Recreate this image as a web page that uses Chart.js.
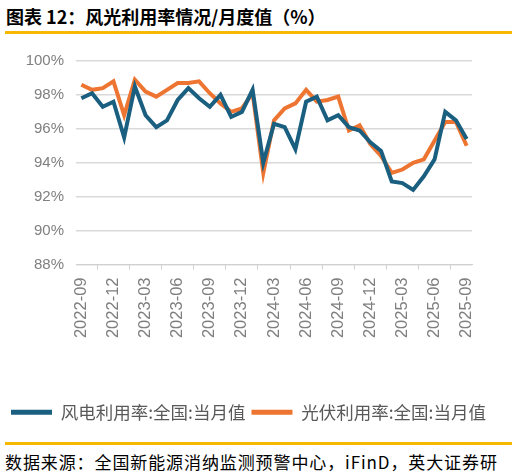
<!DOCTYPE html>
<html>
<head>
<meta charset="utf-8">
<script src="https://cdn.jsdelivr.net/npm/chart.js@4"></script>
<style>
  body { margin: 0; background: #fff; width: 517px; height: 475px; position: relative; overflow: hidden;
         font-family: "Noto Sans CJK SC", sans-serif; }
  .title { position: absolute; left: 6px; top: 3px; font-size: 18px; font-weight: bold; color: #000; white-space: nowrap; }
  .rule { position: absolute; left: 5px; width: 507px; height: 3px; background: #f7b900; }
  .src { position: absolute; left: 5px; top: 449px; font-size: 17px; color: #000; white-space: nowrap; letter-spacing: 0.9px; }
  #wrap { position: absolute; left: 0; top: 40px; width: 517px; height: 395px; }
</style>
</head>
<body>
<div class="title">图表 12：风光利用率情况/月度值（%）</div>
<div class="rule" style="top:31px"></div>
<div id="wrap"><canvas id="c"></canvas></div>
<div class="rule" style="top:442px"></div>
<div class="src">数据来源：全国新能源消纳监测预警中心，iFinD，英大证券研</div>
<script>
const months = [
  '2022-09','2022-10','2022-11','2022-12','2023-01','2023-02','2023-03','2023-04','2023-05','2023-06',
  '2023-07','2023-08','2023-09','2023-10','2023-11','2023-12','2024-01','2024-02','2024-03','2024-04',
  '2024-05','2024-06','2024-07','2024-08','2024-09','2024-10','2024-11','2024-12','2025-01','2025-02',
  '2025-03','2025-04','2025-05','2025-06','2025-07','2025-08','2025-09'
];
const wind = [97.8, 98.1, 97.3, 97.6, 95.5, 98.5, 96.8, 96.1, 96.5, 97.7, 98.4, 97.8, 97.3, 98.0, 96.7, 97.0, 98.3, 94.0,
  96.3, 96.1, 94.8, 97.6, 97.9, 96.5, 96.8, 96.1, 95.9, 95.2, 94.7, 92.9, 92.8, 92.4, 93.2, 94.2, 97.0, 96.5, 95.4];
const solar = [98.6, 98.3, 98.4, 98.8, 96.8, 98.9, 98.2, 97.9, 98.3, 98.7, 98.7, 98.8, 98.1, 97.5, 97.0, 97.2, 98.1, 93.4,
  96.5, 97.2, 97.5, 98.3, 97.6, 97.7, 97.9, 95.9, 96.2, 95.1, 94.4, 93.4, 93.6, 94.0, 94.2, 95.3, 96.4, 96.4, 95.0];
const yTicks = [88, 90, 92, 94, 96, 98, 100];

const gray = '#7f7f7f';
new Chart(document.getElementById('c'), {
  type: 'line',
  data: {
    labels: months,
    datasets: [
      { label: '风电利用率:全国:当月值', data: wind, borderColor: '#1a5f80', backgroundColor: '#1a5f80',
        borderWidth: 4, pointRadius: 0, tension: 0 },
      { label: '光伏利用率:全国:当月值', data: solar, borderColor: '#ed7531', backgroundColor: '#ed7531',
        borderWidth: 4, pointRadius: 0, tension: 0 }
    ]
  },
  options: {
    responsive: true,
    maintainAspectRatio: false,
    animation: false,
    layout: { padding: { top: 21, right: 0, bottom: 4, left: 5 } },
    plugins: {
      tooltip: { enabled: false },
      legend: {
        position: 'bottom',
        align: 'start',
        labels: {
          boxWidth: 41, boxHeight: 5, padding: 6, color: '#595959',
          font: { size: 17.5, family: '"Noto Sans CJK SC", sans-serif' },
          generateLabels(chart) {
            return chart.data.datasets.map((d, i) => ({
              text: d.label, fillStyle: d.borderColor, strokeStyle: d.borderColor,
              lineWidth: 0, datasetIndex: i, fontColor: '#595959'
            }));
          }
        }
      }
    },
    scales: {
      x: {
        offset: true,
        border: { color: '#d0d0d0', width: 1 },
        grid: { display: true, drawOnChartArea: false, offset: true, tickLength: 5, color: '#d0d0d0' },
        ticks: {
          autoSkip: false, minRotation: 90, maxRotation: 90, color: gray, padding: 8,
          font: { size: 16.5, family: 'Arial, "Liberation Sans", sans-serif' },
          callback(v, i) { return i % 3 === 0 ? months[i] : undefined; }
        },
        afterFit(s) { s.height = 133; }
      },
      y: {
        min: 88, max: 100,
        afterBuildTicks(s) { s.ticks = yTicks.map(v => ({ value: v })); },
        border: { display: false },
        grid: { color: '#d9d9d9', lineWidth: 1.5, drawTicks: false },
        ticks: {
          color: gray, padding: 12,
          font: { size: 15, family: 'Arial, "Liberation Sans", sans-serif' },
          callback: v => v + '%'
        },
        afterFit(s) { s.width = 71; }
      },
      yRight: {
        position: 'right',
        min: 88, max: 100,
        border: { display: false },
        grid: { display: false },
        ticks: { display: false },
        afterFit(s) { s.width = 45; }
      }
    }
  }
});
</script>
</body>
</html>
